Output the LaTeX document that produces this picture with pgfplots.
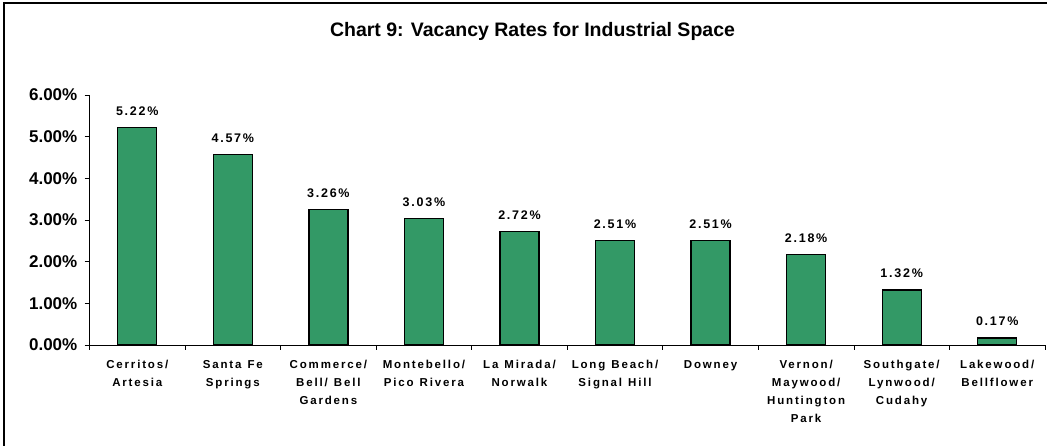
\documentclass[border=0pt]{standalone}
\usepackage{fontspec}
\setmainfont{Liberation Sans}
\newfontfamily\catfont{Liberation Sans}[LetterSpace=16]
\newfontfamily\valfont{Liberation Sans}[LetterSpace=14]
\newcommand\wsp{\hspace{6pt}}
\usepackage{pgfplots}
\pgfplotsset{compat=1.18}
\definecolor{bargreen}{RGB}{51,153,102}
\begin{document}
\begin{tikzpicture}[x=1pt,y=1pt]
\useasboundingbox (-89.5,-101) rectangle (957.5,345);
\draw[line width=1.8pt] (-85.5,-101) -- (-85.5,342) -- (957.5,342);
\node[font=\fontsize{19.5}{22}\selectfont\bfseries] at (443,314) {Chart 9: Vacancy Rates for Industrial Space};
\begin{axis}[
  at={(0,0)}, anchor=origin,
  scale only axis, width=955.5pt, height=250pt,
  xmin=0.5, xmax=10.5, ymin=0, ymax=6,
  axis x line=bottom, axis y line=left,
  axis line style={-, line width=0.8pt},
  xtick={1,...,10},
  xticklabels={{Cerritos/\\Artesia},{Santa\wsp Fe\\Springs},{Commerce/\\Bell/\wsp Bell\\Gardens},{Montebello/\\Pico\wsp Rivera},{La\wsp Mirada/\\Norwalk},{Long\wsp Beach/\\Signal\wsp Hill},{Downey},{Vernon/\\Maywood/\\Huntington\\Park},{Southgate/\\Lynwood/\\Cudahy},{Lakewood/\\Bellflower}},
  minor xtick={0.5,1.5,...,10.5},
  major x tick style={draw=none},
  minor x tick style={black, line width=0.8pt},
  minor tick length=5pt,
  major tick length=5pt,
  tick align=outside,
  ytick={0,1,...,6},
  y tick style={black, line width=0.8pt},
  yticklabel={\pgfmathprintnumber[fixed,fixed zerofill,precision=2,assume math mode=true]{\tick}\%},
  yticklabel style={font=\fontsize{17}{17}\selectfont\bfseries, inner sep=0pt, xshift=-7pt},
  xticklabel style={font=\fontsize{11.5}{18}\selectfont\catfont\bfseries, align=center, text width=95pt, anchor=north, inner sep=0pt, yshift=-10pt},
  ybar, bar width=39pt,
  nodes near coords={\pgfplotspointmeta},
  point meta=explicit symbolic,
  every node near coord/.append style={font=\fontsize{12.5}{12.5}\selectfont\valfont\bfseries, anchor=base, inner sep=0pt, yshift=12pt},
  clip=false,
]
\addplot[fill=bargreen, draw=black, line width=1.3pt] table[meta=label] {
x y label
1 5.22 5.22\%
2 4.57 4.57\%
3 3.26 3.26\%
4 3.03 3.03\%
5 2.72 2.72\%
6 2.51 2.51\%
7 2.51 2.51\%
8 2.18 2.18\%
9 1.32 1.32\%
10 0.17 0.17\%
};
\end{axis}
\end{tikzpicture}
\end{document}
